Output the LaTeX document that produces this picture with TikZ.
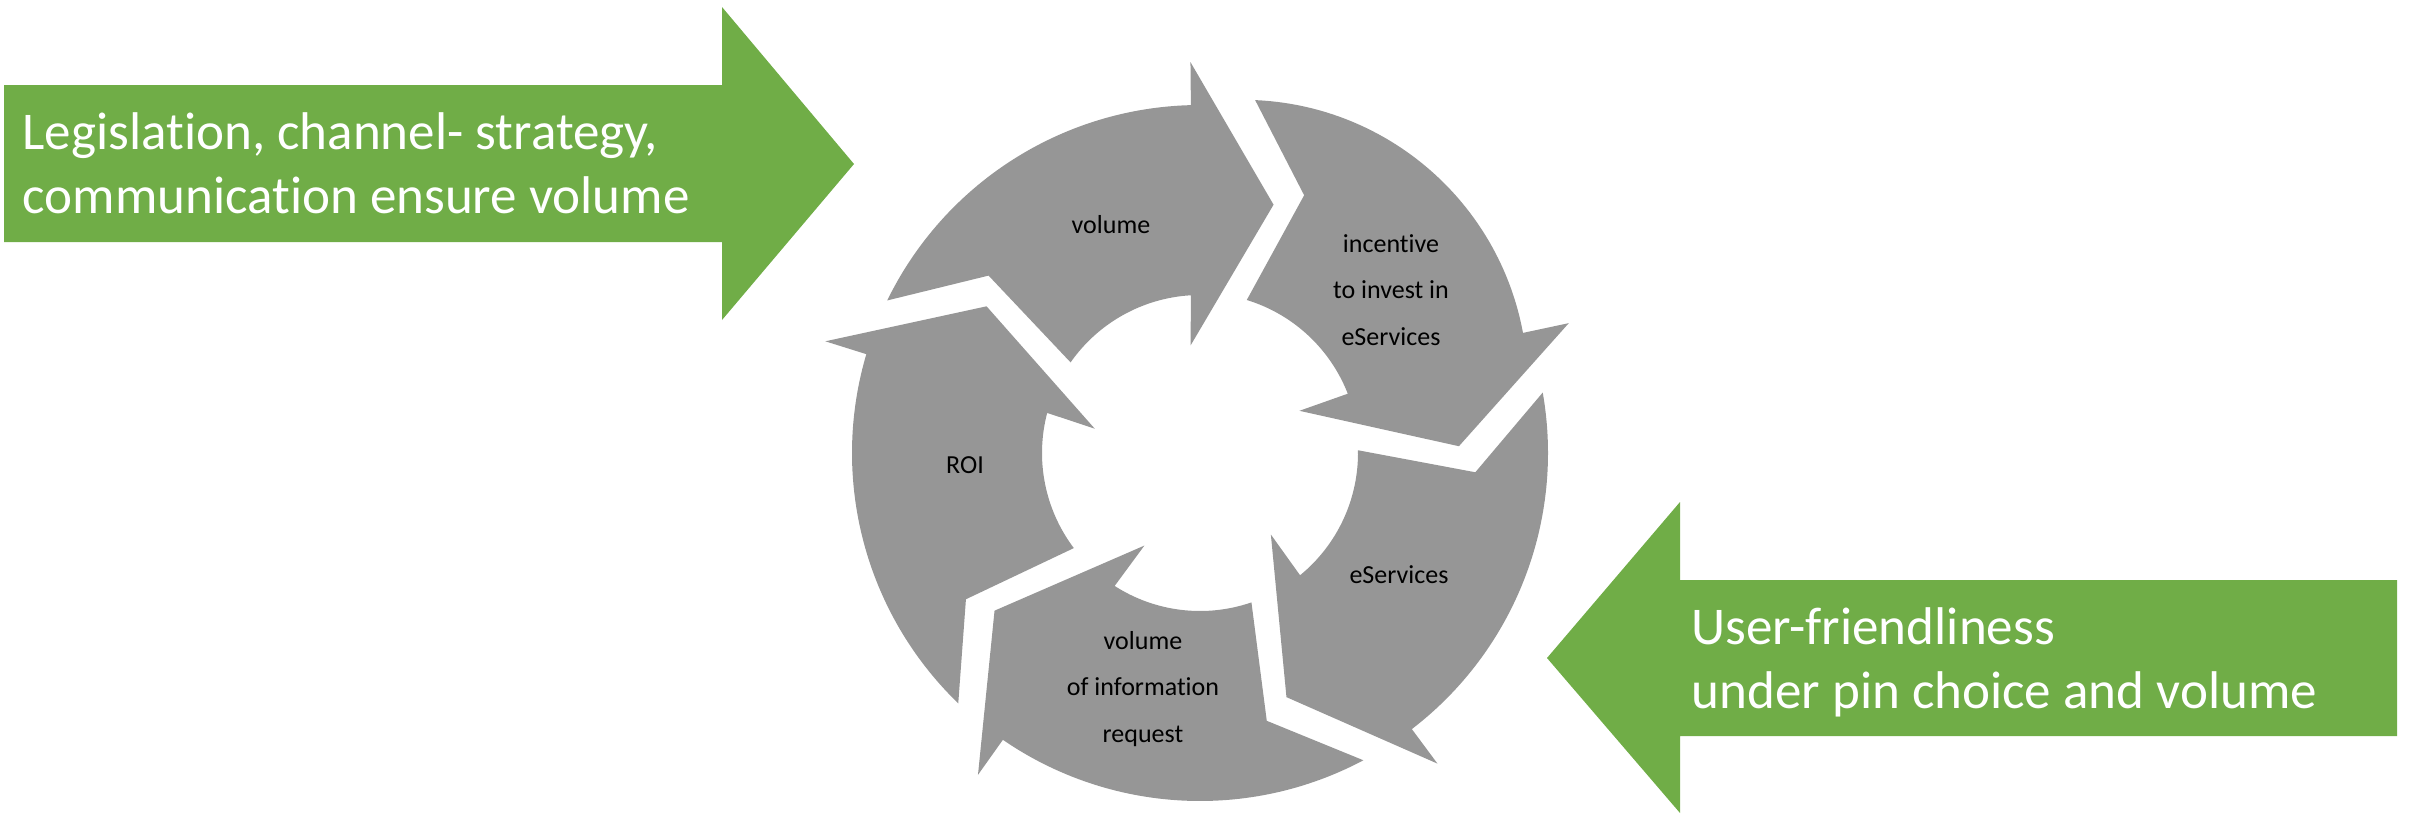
\documentclass[tikz,border=0pt]{standalone}
\usepackage{fontspec}
\setmainfont{Carlito}[Ligatures={NoCommon,NoRare}]
\definecolor{cyclegray}{HTML}{969696}
\definecolor{pushgreen}{HTML}{70AD47}
\tikzset{
  ringlabel/.style={font=\fontsize{7.4}{13.1}\selectfont, align=center, inner sep=0pt, anchor=base},
  pushlabel/.style={font=\fontsize{15.1}{18}\selectfont, text=white, align=left, inner sep=0pt, anchor=base west},
}

\begin{document}
\begin{tikzpicture}[x=0.1mm,y=0.1mm]
  \useasboundingbox (0,0) rectangle (2410,815);
  \coordinate (c) at (1200,362);

  % green arrows pushing into the cycle
  \fill[pushgreen] (4,573) -- (722,573) -- (722,495) -- (854,651) -- (722,808) -- (722,730) -- (4,730) -- cycle;
  \fill[pushgreen] (2397,79) -- (1680,79) -- (1680,2) -- (1547,157) -- (1680,313) -- (1680,235) -- (2397,235) -- cycle;

  % arrows of the cycle (the second one is drawn apart, its outer edge bulges)
  \foreach \k in {0,2,3,4}{
    \begin{scope}[shift={(c)}, rotate=-72*\k]
      \fill[cyclegray] (154:348) -- (140:276) -- (145:158)
        arc[start angle=145, end angle=93.3, radius=158] -- (95:108)
        -- (73.5:259) -- (91.4:391) -- (91.5:348)
        arc[start angle=91.5, end angle=154, radius=348] -- cycle;
    \end{scope}
  }
  \begin{scope}[shift={(c)}, rotate=-72]
    \fill[cyclegray] (153.1:357) -- (140:278) -- (145:160)
      arc[start angle=145, end angle=93.3, radius=158] -- (95:108)
      -- (73.5:259) -- (91.4:391) -- (92.4:344.6)
      arc[start angle=82.5, end angle=159.4, radius=285] -- cycle;
  \end{scope}

  % base anchor of a multi-line node sits on its last line
  \node[ringlabel] (vol) at (1111,582) {volume};
  \node[ringlabel] (inc) at (1391,470) {incentive\\to invest in\\eServices};
  \node[ringlabel] (esv) at (1399,232) {eServices};
  \node[ringlabel] (req) at (1143,73) {volume\\of information\\request};
  \node[ringlabel] (roi) at (965,342) {ROI};

  \node[pushlabel] (law) at (22,602) {Legislation, channel- strategy,\\communication ensure volume};
  \node[pushlabel] (usr) at (1691,107) {User-friendliness\\under pin choice and volume};
\end{tikzpicture}
\end{document}
